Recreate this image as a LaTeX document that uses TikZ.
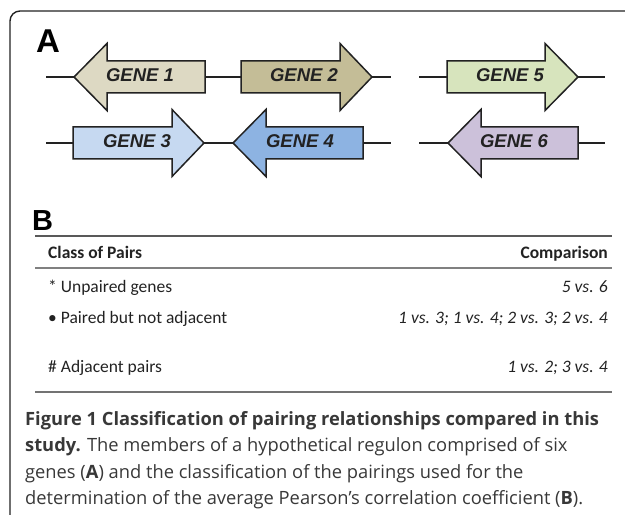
\documentclass[tikz,border=0pt]{standalone}
\usepackage{fontspec}
\setmainfont{Carlito}
\newfontfamily\arialf{Liberation Sans}
\newfontfamily\capfont{Open Sans}
\definecolor{gA}{HTML}{DDD9C3}
\definecolor{gB}{HTML}{C4BD97}
\definecolor{gC}{HTML}{C6D9F1}
\definecolor{gD}{HTML}{8DB3E2}
\definecolor{gE}{HTML}{D7E4BD}
\definecolor{gF}{HTML}{CCC1DA}
\definecolor{ink}{HTML}{222222}
\begin{document}
\begin{tikzpicture}[x=1bp,y=-1bp,
  genebox/.style={draw=ink, line width=1.5bp, line join=miter},
  dna/.style={draw=ink, line width=1.4bp},
  genelabel/.style={font=\arialf\bfseries\itshape\fontsize{18.5bp}{20bp}\selectfont, text=ink, inner sep=0},
  panel/.style={font=\arialf\bfseries, text=black, inner sep=0, anchor=base west},
  tabtext/.style={font=\fontsize{17.5bp}{20bp}\selectfont, text=ink, inner sep=0},
  tabhead/.style={tabtext, font=\bfseries\fontsize{17.5bp}{20bp}\selectfont},
  tabcmp/.style={tabtext, font=\itshape\fontsize{17.5bp}{20bp}\selectfont, anchor=base east},
  capline/.style={font=\capfont\fontsize{18.3bp}{20bp}\selectfont, text=ink!90, inner sep=0, anchor=base west},
  rulestyle/.style={line width=2bp}]
\useasboundingbox (0,0) rectangle (625,515);
% frame
\coordinate (fbl) at (10,515);
\coordinate (ftl) at (10,11);
\coordinate (ftr) at (625,11);
\draw[ink, line width=1.4bp, rounded corners=10bp] (fbl) -- (ftl) -- (ftr);
% panel labels
\node[panel, font=\arialf\bfseries\fontsize{33bp}{34bp}\selectfont] (labA) at (36,53) {A};
\node[panel, font=\arialf\bfseries\fontsize{29bp}{30bp}\selectfont] (labB) at (32,231) {B};
% ---- row 1 ----
\draw[genebox, fill=gA] (205,61) -- (107,61) -- (107,43.5) -- (74,77) -- (107,110.5) -- (107,93) -- (205,93) -- cycle;
\coordinate (g1tip) at (74,77); \coordinate (g1tail) at (205,77);
\draw[genebox, fill=gB] (241,61) -- (340,61) -- (340,43.5) -- (372,77) -- (340,110.5) -- (340,93) -- (241,93) -- cycle;
\coordinate (g2tail) at (241,77); \coordinate (g2tip) at (372,77);
\draw[genebox, fill=gE] (447,61) -- (545,61) -- (545,43.5) -- (578,77) -- (545,110.5) -- (545,93) -- (447,93) -- cycle;
\coordinate (g5tail) at (447,77); \coordinate (g5tip) at (578,77);
% ---- row 2 ----
\draw[genebox, fill=gC] (73,127) -- (172,127) -- (172,109.5) -- (204,143) -- (172,176.5) -- (172,159) -- (73,159) -- cycle;
\coordinate (g3tail) at (73,143); \coordinate (g3tip) at (204,143);
\draw[genebox, fill=gD] (363,127) -- (266,127) -- (266,109.5) -- (233,143) -- (266,176.5) -- (266,159) -- (363,159) -- cycle;
\coordinate (g4tip) at (233,143); \coordinate (g4tail) at (363,143);
\draw[genebox, fill=gF] (578,127) -- (481,127) -- (481,109.5) -- (448,143) -- (481,176.5) -- (481,159) -- (578,159) -- cycle;
\coordinate (g6tip) at (448,143); \coordinate (g6tail) at (578,143);
% DNA line ends
\coordinate (r1a) at (46,77); \coordinate (r1b) at (391,77);
\coordinate (r1c) at (419,77); \coordinate (r1d) at (605,77);
\coordinate (r2a) at (46,143); \coordinate (r2b) at (391,143);
\coordinate (r2c) at (419,143); \coordinate (r2d) at (605,143);
\draw[dna] (r1a) -- (g1tip);
\draw[dna] (g1tail) -- (g2tail);
\draw[dna] (g2tip) -- (r1b);
\draw[dna] (r1c) -- (g5tail);
\draw[dna] (g5tip) -- (r1d);
\draw[dna] (r2a) -- (g3tail);
\draw[dna] (g3tip) -- (g4tip);
\draw[dna] (g4tail) -- (r2b);
\draw[dna] (r2c) -- (g6tip);
\draw[dna] (g6tail) -- (r2d);
% gene labels
\node[genelabel] (t1) at (140,75) {GENE 1};
\node[genelabel] (t2) at (304,75) {GENE 2};
\node[genelabel] (t5) at (510,75) {GENE 5};
\node[genelabel] (t3) at (137,141) {GENE 3};
\node[genelabel] (t4) at (300,141) {GENE 4};
\node[genelabel] (t6) at (514,141) {GENE 6};
% ---- table ----
\coordinate (ra1) at (35,236); \coordinate (ra2) at (612,236);
\coordinate (rb1) at (35,268); \coordinate (rb2) at (612,268);
\coordinate (rc1) at (35,392); \coordinate (rc2) at (612,392);
\draw[rulestyle, draw=black!65] (ra1) -- (ra2);
\draw[rulestyle, draw=black!50] (rb1) -- (rb2);
\draw[rulestyle, draw=black!55] (rc1) -- (rc2);
\node[tabhead, anchor=base west] (h1) at (48,258) {Class of Pairs};
\node[tabhead, anchor=base east] (h2) at (608,258) {Comparison};
\node[tabtext, anchor=base west] (c1) at (48,292) {* Unpaired genes};
\node[tabcmp] (v1) at (608,292) {5 vs. 6};
\node[tabtext, anchor=base west] (c2) at (48,323) {• Paired but not adjacent};
\node[tabcmp] (v2) at (608,323) {1 vs. 3; 1 vs. 4; 2 vs. 3; 2 vs. 4};
\node[tabtext, anchor=base west] (c3) at (48,372) {\# Adjacent pairs};
\node[tabcmp] (v3) at (608,372) {1 vs. 2; 3 vs. 4};
% ---- caption ----
\node[capline] (cap1) at (25,425) {\textbf{Figure 1 Classification of pairing relationships compared in this}};
\node[capline] (cap2) at (25,451) {\textbf{study.} The members of a hypothetical regulon comprised of six};
\node[capline] (cap3) at (25,478) {genes (\textbf{A}) and the classification of the pairings used for the};
\node[capline] (cap4) at (25,504) {determination of the average Pearson’s correlation coefficient (\textbf{B}).};
\end{tikzpicture}
\end{document}
